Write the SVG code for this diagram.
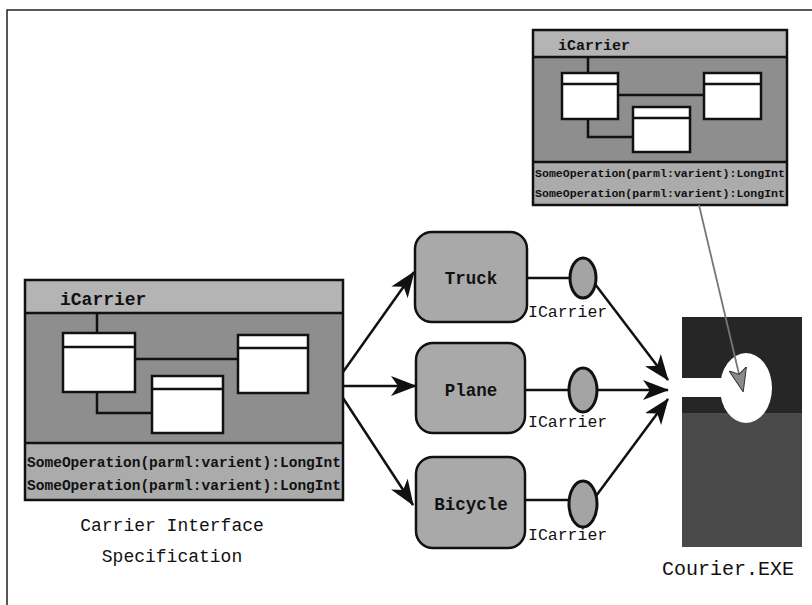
<svg xmlns="http://www.w3.org/2000/svg" width="812" height="605" viewBox="0 0 812 605">
<style>
.mono{font-family:"Liberation Mono","DejaVu Sans Mono",monospace;fill:#111}
.b{font-weight:bold}
.frame{fill:none;stroke:#111;stroke-width:2.5}
.hdr{fill:#b4b4b4}
.body{fill:#8e8e8e}
.ops{fill:#ababab}
.cls{fill:#fff;stroke:#111;stroke-width:2.5}
.ln{fill:none;stroke:#111;stroke-width:2.5}
.node{fill:#a9a9a9;stroke:#111;stroke-width:2.5}
.port{fill:#a4a4a4;stroke:#111;stroke-width:3}
.con{fill:none;stroke:#111;stroke-width:2.5;marker-end:url(#ah)}
</style>
<defs>
<marker id="ah" viewBox="0 0 26 20" refX="25" refY="10" markerWidth="26" markerHeight="20" markerUnits="userSpaceOnUse" orient="auto">
<path d="M0,0 L26,10 L0,20 L7,10 z" fill="#111"/>
</marker>
<marker id="ahg" viewBox="0 0 24 18" refX="23" refY="9" markerWidth="24" markerHeight="18" markerUnits="userSpaceOnUse" orient="auto">
<path d="M0,0 L24,9 L0,18 L6,9 z" fill="#8a8a8a" stroke="#333" stroke-width="1"/>
</marker>
</defs>
<rect x="0" y="0" width="812" height="605" fill="#fff"/>
<path d="M7,605 L7,10 L812,10" fill="none" stroke="#222" stroke-width="1.5"/>

<g id="spec">
<rect x="25" y="280" width="318" height="33" class="hdr"/>
<rect x="25" y="313" width="318" height="130" class="body"/>
<rect x="25" y="443" width="318" height="57" class="ops"/>
<rect x="25" y="280" width="318" height="220" class="frame"/>
<line x1="25" y1="313" x2="343" y2="313" class="ln"/>
<line x1="25" y1="443" x2="343" y2="443" class="ln"/>
<text x="60" y="305" class="mono b" font-size="18">iCarrier</text>
<path d="M97,313 V333 M135,359 H238 M97,392 V413 H152" class="ln" stroke-width="3.5"/>
<rect x="63" y="333" width="72" height="59" class="cls"/>
<line x1="63" y1="347" x2="135" y2="347" class="ln"/>
<rect x="238" y="335" width="70" height="58" class="cls"/>
<line x1="238" y1="348" x2="308" y2="348" class="ln"/>
<rect x="152" y="376" width="71" height="57" class="cls"/>
<line x1="152" y1="389" x2="223" y2="389" class="ln"/>
<text x="27" y="467" class="mono b" font-size="14.5" textLength="314" lengthAdjust="spacingAndGlyphs">SomeOperation(parml:varient):LongInt</text>
<text x="27" y="490" class="mono b" font-size="14.5" textLength="314" lengthAdjust="spacingAndGlyphs">SomeOperation(parml:varient):LongInt</text>
</g>

<g id="spec-small">
<rect x="533" y="30" width="254" height="27" class="hdr"/>
<rect x="533" y="57" width="254" height="105" class="body"/>
<rect x="533" y="162" width="254" height="43" class="ops"/>
<rect x="533" y="30" width="254" height="175" class="frame" stroke-width="2"/>
<line x1="533" y1="57" x2="787" y2="57" class="ln" stroke-width="2"/>
<line x1="533" y1="162" x2="787" y2="162" class="ln" stroke-width="2"/>
<text x="558" y="50" class="mono b" font-size="15">iCarrier</text>
<path d="M588,57 V73 M618,95 H704 M588,119 V137 H633" class="ln" stroke-width="3.5"/>
<rect x="562" y="73" width="56" height="46" class="cls" stroke-width="2"/>
<line x1="562" y1="84" x2="618" y2="84" class="ln" stroke-width="2"/>
<rect x="704" y="73" width="57" height="46" class="cls" stroke-width="2"/>
<line x1="704" y1="84" x2="761" y2="84" class="ln" stroke-width="2"/>
<rect x="633" y="107" width="57" height="45" class="cls" stroke-width="2"/>
<line x1="633" y1="118" x2="690" y2="118" class="ln" stroke-width="2"/>
<text x="535" y="177" class="mono b" font-size="11.5" textLength="250" lengthAdjust="spacingAndGlyphs">SomeOperation(parml:varient):LongInt</text>
<text x="535" y="197" class="mono b" font-size="11.5" textLength="250" lengthAdjust="spacingAndGlyphs">SomeOperation(parml:varient):LongInt</text>
</g>

<g id="spec-label">
<text x="172" y="531" class="mono" font-size="18" text-anchor="middle">Carrier Interface</text>
<text x="172" y="562" class="mono" font-size="18" text-anchor="middle">Specification</text>
</g>

<g id="truck">
<rect x="415" y="232" width="112" height="90" rx="17" class="node"/>
<text x="471" y="284" class="mono b" font-size="17.5" text-anchor="middle">Truck</text>
</g>
<g id="plane">
<rect x="416" y="343" width="109" height="90" rx="17" class="node"/>
<text x="471" y="396" class="mono b" font-size="17.5" text-anchor="middle">Plane</text>
</g>
<g id="bicycle">
<rect x="416" y="457" width="109" height="91" rx="17" class="node"/>
<text x="471" y="510" class="mono b" font-size="17.5" text-anchor="middle">Bicycle</text>
</g>

<g id="port-truck">
<ellipse cx="583" cy="278" rx="13" ry="20" class="port"/>
<text x="528" y="317" class="mono" font-size="16.5">ICarrier</text>
</g>
<g id="port-plane">
<ellipse cx="583" cy="390" rx="14" ry="22" class="port"/>
<text x="528" y="427" class="mono" font-size="16.5">ICarrier</text>
</g>
<g id="port-bicycle">
<ellipse cx="583" cy="504" rx="14" ry="23" class="port"/>
<text x="528" y="540" class="mono" font-size="16.5">ICarrier</text>
</g>

<g id="courier">
<rect x="682" y="317" width="120" height="96" fill="#262626"/>
<rect x="682" y="413" width="120" height="134" fill="#4a4a4a"/>
<rect x="664" y="378" width="70" height="19" fill="#fff"/>
<ellipse cx="746" cy="388" rx="26" ry="35" fill="#fff"/>
<text x="728" y="575" class="mono" font-size="20" text-anchor="middle">Courier.EXE</text>
</g>

<g id="connectors">
<line x1="343" y1="372" x2="414" y2="272" class="con"/>
<line x1="343" y1="386" x2="416" y2="386" class="con"/>
<line x1="343" y1="398" x2="413" y2="505" class="con"/>
<line x1="527" y1="278" x2="570" y2="278" class="ln"/>
<line x1="525" y1="390" x2="569" y2="390" class="ln"/>
<line x1="525" y1="500" x2="569" y2="500" class="ln"/>
<line x1="595" y1="284" x2="668" y2="380" class="con"/>
<line x1="597" y1="390" x2="668" y2="390" class="con"/>
<line x1="596" y1="496" x2="668" y2="399" class="con"/>
<line x1="699" y1="205" x2="743" y2="391" fill="none" stroke="#777" stroke-width="1.8" marker-end="url(#ahg)"/>
</g>
</svg>
